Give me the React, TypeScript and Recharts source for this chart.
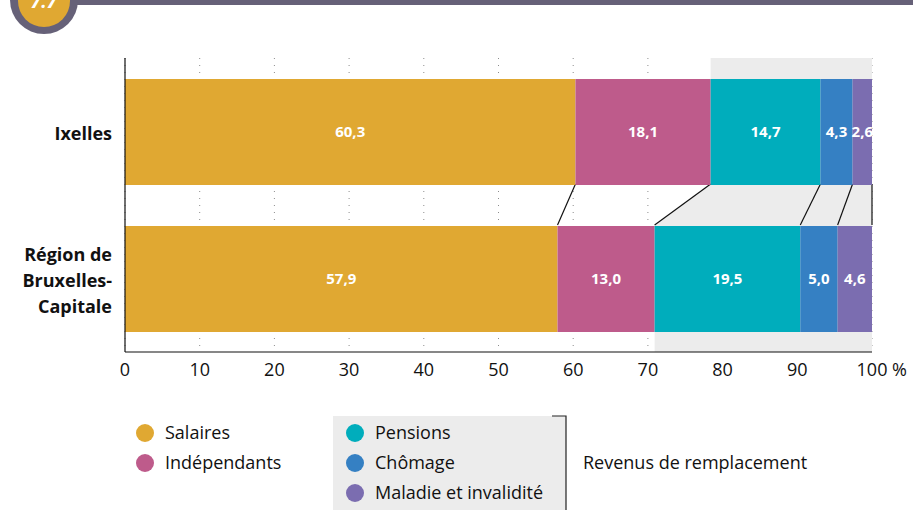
import React from 'react';
import * as R from 'recharts';

const { BarChart, Bar, XAxis, YAxis, CartesianGrid, LabelList } = R;

// Régions comparées
const regions = ['Ixelles', 'Région de Bruxelles-Capitale'];
const regionLines = [['Ixelles'], ['Région de', 'Bruxelles-', 'Capitale']];

// Composition du revenu (%)
const seriesKeys = ['salaires', 'independants', 'pensions', 'chomage', 'maladie'];
const seriesNames = ['Salaires', 'Indépendants', 'Pensions', 'Chômage', 'Maladie et invalidité'];
const seriesColors = ['#E0A832', '#BE5B8B', '#00ADBC', '#3580C3', '#7B6DB0'];
const salaires = [60.3, 57.9];
const independants = [18.1, 13.0];
const pensions = [14.7, 19.5];
const chomage = [4.3, 5.0];
const maladie = [2.6, 4.6];
const seriesValues = [salaires, independants, pensions, chomage, maladie];

const xTicks = [0, 10, 20, 30, 40, 50, 60, 70, 80, 90, 100];
const unitLabel = '%';
const badgeLabel = '7.7';
const replacementLabel = 'Revenus de remplacement';
const replacementFirst = 2; // first series counted as replacement income

const data = regions.map((name, i) => {
  const row: Record<string, any> = { name };
  seriesKeys.forEach((k, s) => (row[k] = seriesValues[s][i]));
  return row;
});

const W = 913;
const H = 510;
const BAR_SIZE = 106;
const FONT = '"Open Sans", "Noto Sans", sans-serif';
const GREY = '#ECECEC';

const usePlotAreaHook = (R as any).usePlotArea;
const useOffsetHook = (R as any).useOffset;
const useWidthHook = (R as any).useChartWidth;
const useHeightHook = (R as any).useChartHeight;
const useXScaleHook = (R as any).useXAxisScale;

function usePlot() {
  if (usePlotAreaHook) {
    return usePlotAreaHook();
  }
  const off = useOffsetHook();
  const w = useWidthHook();
  const h = useHeightHook();
  if (!off) return undefined;
  return { x: off.left, y: off.top, width: w - off.left - off.right, height: h - off.top - off.bottom };
}

// Row geometry: x from the value axis scale, rows from the category bands
function useGeometry() {
  const plot = usePlot();
  const xScale = useXScaleHook ? useXScaleHook() : undefined;
  if (!plot) return null;
  const xOf = (v: number) => (xScale ? Number(xScale(v)) : plot.x + (v / 100) * plot.width);
  const step = plot.height / data.length;
  const off = ((step - BAR_SIZE) / 2) >> 0;
  const tops = data.map((_, i) => plot.y + i * step + off);
  const cum = data.map((_, i) => {
    const c = [0];
    seriesValues.forEach((vals) => c.push(c[c.length - 1] + vals[i]));
    return c;
  });
  return { plot, xOf, tops, cum };
}

// Grey zone behind the replacement-income part of both bars
function Backdrop() {
  const g = useGeometry();
  if (!g) return null;
  const { plot, xOf, tops, cum } = g;
  const right = plot.x + plot.width;
  const bottom = plot.y + plot.height;
  const xa = xOf(cum[0][replacementFirst]);
  const xb = xOf(cum[1][replacementFirst]);
  const pts = [
    [xa, plot.y],
    [right, plot.y],
    [right, bottom],
    [xb, bottom],
    [xb, tops[1]],
    [xa, tops[0] + BAR_SIZE],
  ]
    .map((p) => p.join(','))
    .join(' ');
  return <polygon points={pts} fill={GREY} />;
}

// Lines joining matching segment boundaries of the two bars
function Connectors() {
  const g = useGeometry();
  if (!g) return null;
  const { xOf, tops, cum } = g;
  return (
    <g>
      {cum[0].slice(1).map((v, k) => (
        <line
          key={k}
          x1={xOf(v)}
          y1={tops[0] + BAR_SIZE}
          x2={xOf(cum[1][k + 1])}
          y2={tops[1]}
          stroke="#111"
          strokeWidth={1.2}
        />
      ))}
    </g>
  );
}

function RegionTick(props: any) {
  const { x, y, index } = props;
  const lines = regionLines[index] || [String(props.payload?.value)];
  const first = y + 8 - (lines.length - 1) * 13;
  return (
    <text x={x} y={first} textAnchor="end" fontFamily={FONT} fontWeight={700} fontSize={18} fill="#111">
      {lines.map((l, i) => (
        <tspan key={i} x={x} y={first + i * 26}>
          {l}
        </tspan>
      ))}
    </text>
  );
}

const fmt = (v: any) => Number(v).toFixed(1).replace('.', ',');

export default function App() {
  return (
    <div style={{ position: 'fixed', left: 0, top: 0, width: W, height: H, background: '#fff' }}>
      <BarChart
        width={W}
        height={H}
        data={data}
        layout="vertical"
        margin={{ top: 58, right: 41, bottom: 128, left: 0 }}
      >
        <Backdrop />
        <CartesianGrid horizontal={false} stroke="#8c8c8c" strokeDasharray="1 6" />
        <XAxis
          type="number"
          domain={[0, 100]}
          ticks={xTicks}
          height={30}
          tickLine={false}
          tickMargin={5}
          axisLine={{ stroke: '#111', strokeWidth: 1.2 }}
          tick={{ fontFamily: FONT, fontSize: 18, fill: '#111' }}
          interval={0}
        />
        <YAxis
          type="category"
          dataKey="name"
          width={125}
          tickLine={false}
          tickMargin={7}
          axisLine={{ stroke: '#111', strokeWidth: 1.2 }}
          tick={<RegionTick />}
          interval={0}
        />
        {seriesKeys.map((k, s) => (
          <Bar key={k} dataKey={k} name={seriesNames[s]} stackId="s" fill={seriesColors[s]} barSize={BAR_SIZE} isAnimationActive={false}>
            <LabelList
              dataKey={k}
              position="center"
              formatter={fmt}
              fill="#fff"
              fontFamily={FONT}
              fontWeight={700}
              fontSize={15}
            />
          </Bar>
        ))}
        <Connectors />
      </BarChart>
      <svg width={W} height={H} style={{ position: 'absolute', left: 0, top: 0, pointerEvents: 'none' }}>
        <text x={892} y={376} fontFamily={FONT} fontSize={18} fill="#111">
          {unitLabel}
        </text>
        {/* header band and badge */}
        <rect x={44} y={0} width={W - 44} height={5} fill="#666178" />
        <circle cx={44} cy={0} r={34} fill="#666178" />
        <circle cx={44} cy={1} r={26} fill="#E0A832" />
        <text x={44} y={8} textAnchor="middle" fontFamily={FONT} fontStyle="italic" fontWeight={700} fontSize={19} fill="#fff">
          {badgeLabel}
        </text>
        {/* legend */}
        <rect x={333} y={416} width={233} height={H - 416} fill={GREY} />
        <path d={`M552,416 H566 V${H}`} fill="none" stroke="#222" strokeWidth={1.2} />
        {seriesNames.map((n, s) => {
          const grp = s < replacementFirst ? 0 : 1;
          const row = grp === 0 ? s : s - replacementFirst;
          const cx = grp === 0 ? 145 : 355;
          const cy = 433 + row * 30;
          return (
            <g key={n}>
              <circle cx={cx} cy={cy} r={9} fill={seriesColors[s]} />
              <text x={cx + 20} y={cy + 6} fontFamily={FONT} fontSize={18} fill="#111">
                {n}
              </text>
            </g>
          );
        })}
        <text x={583} y={469} fontFamily={FONT} fontSize={18} fill="#111">
          {replacementLabel}
        </text>
      </svg>
    </div>
  );
}
